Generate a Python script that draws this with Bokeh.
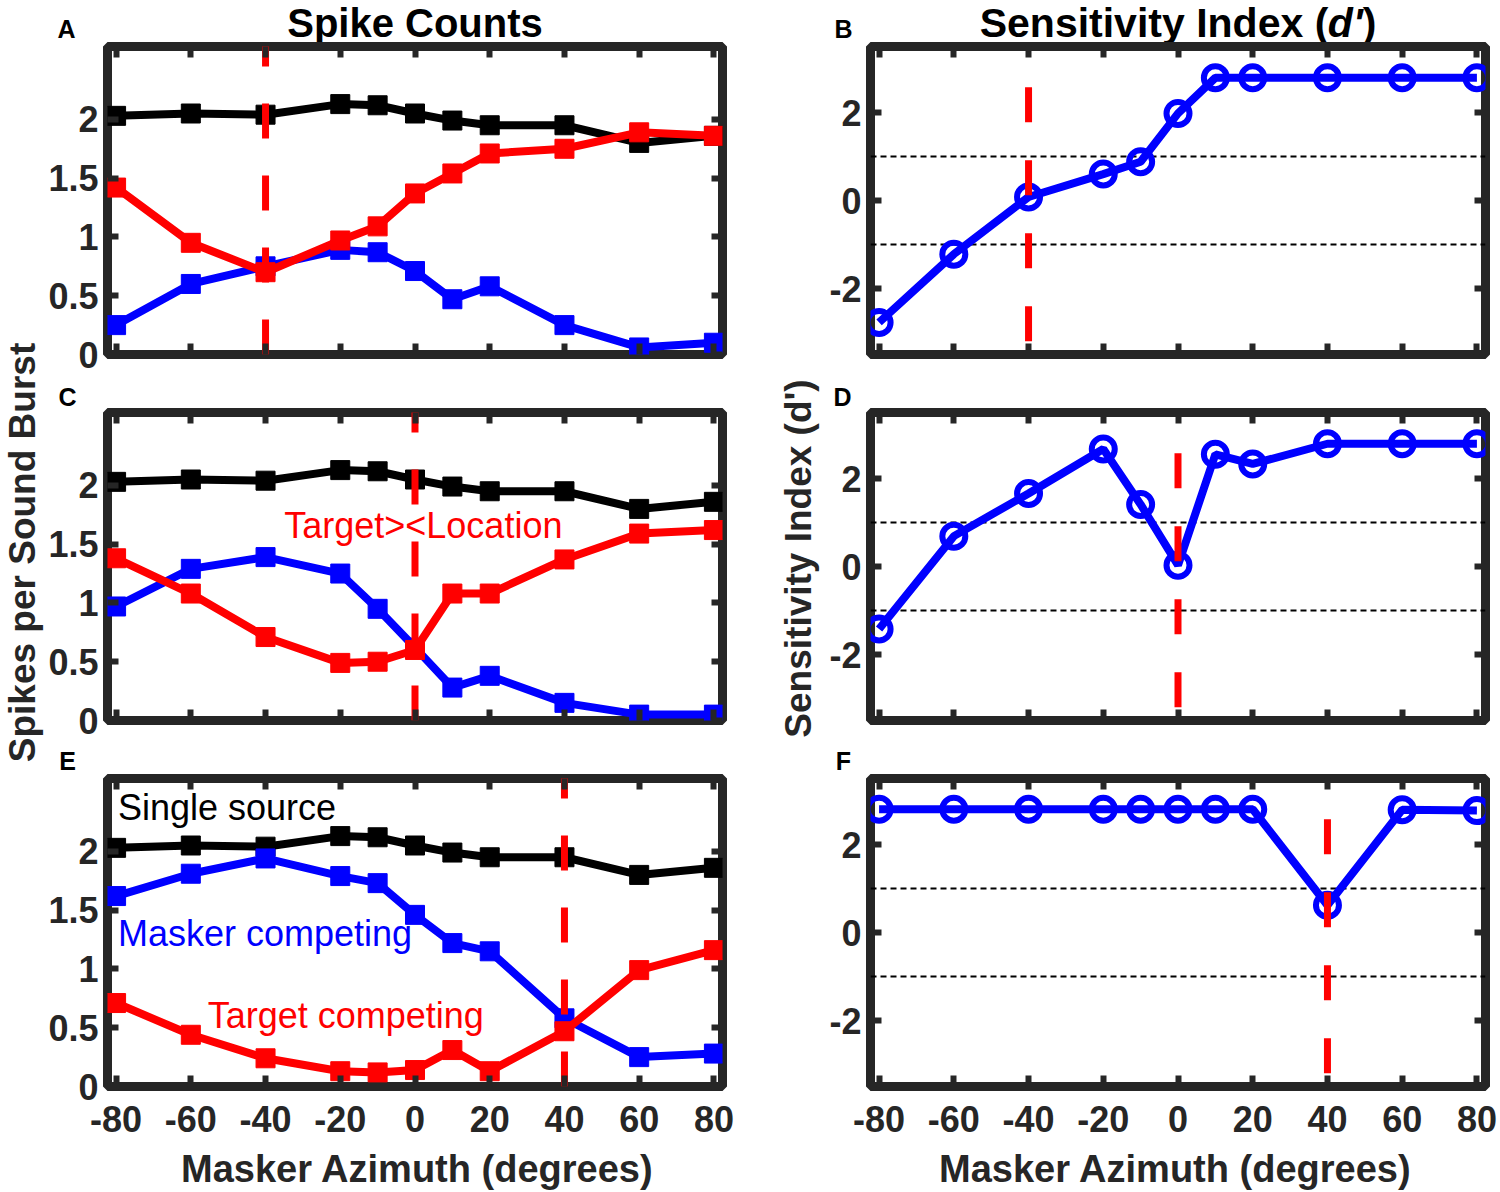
from math import pi
from bokeh.plotting import figure
from bokeh.models import Range1d, LinearAxis, FixedTicker, Label, Span, CustomJSTickFormatter
from bokeh.layouts import row, column
from bokeh.embed import file_html
from bokeh.resources import INLINE

# ---------------- data ----------------
azimuth = [-80, -60, -40, -20, -10, 0, 10, 20, 40, 60, 80]
single_source = [2.03, 2.05, 2.04, 2.13, 2.12, 2.05, 1.99, 1.95, 1.95, 1.80, 1.86]

target_A = [1.42, 0.95, 0.70, 0.97, 1.09, 1.37, 1.54, 1.71, 1.75, 1.89, 1.86]
masker_A = [0.25, 0.60, 0.75, 0.89, 0.87, 0.71, 0.47, 0.58, 0.25, 0.06, 0.10]

target_C = [1.38, 1.08, 0.71, 0.49, 0.50, 0.60, 1.08, 1.08, 1.37, 1.59, 1.62]
masker_C = [0.97, 1.29, 1.39, 1.25, 0.95, 0.62, 0.28, 0.38, 0.15, 0.05, 0.05]

target_E = [0.71, 0.44, 0.24, 0.13, 0.12, 0.14, 0.31, 0.13, 0.47, 0.99, 1.16]
masker_E = [1.62, 1.81, 1.94, 1.79, 1.73, 1.46, 1.22, 1.15, 0.58, 0.25, 0.28]

dprime_B = [-2.77, -1.22, 0.08, 0.60, 0.88, 1.98, 2.79, 2.79, 2.79, 2.79, 2.79]
dprime_D = [-1.42, 0.69, 1.66, 2.67, 1.41, 0.03, 2.55, 2.33, 2.79, 2.79, 2.79]
dprime_F = [2.80, 2.80, 2.80, 2.80, 2.80, 2.80, 2.80, 2.80, 0.62, 2.79, 2.77]

target_location = [-40, 0, 40]       # red dashed line per row
criterion = [-1, 1]                   # dotted d' criteria
x_ticks = [-80, -60, -40, -20, 0, 20, 40, 60, 80]
spike_ticks = [0, 0.5, 1, 1.5, 2]
dprime_ticks = [-2, 0, 2]

# ---------------- style ----------------
FONT = "Liberation Sans"
INK = "#262626"
RED, BLUE, BLACK = "#FF0000", "#0000FF", "#000000"
XLIM = (-82.3, 82.3)
YLIM_SPK = (0.0, 2.62)
YLIM_DP = (-3.5, 3.5)
FW, FH = 615, 308
DASH_SPK = (0.0, 3.0)
DASH_DP = (-3.2, 2.6)
OVERLAP = 9


def make_panel(ylim, yticks, height, mb_left, mb_right, mb_top, mb_bottom, bottom_labels):
    width = mb_left + FW + mb_right
    p = figure(width=width, height=height, x_range=Range1d(*XLIM), y_range=Range1d(*ylim),
               toolbar_location=None, output_backend="svg",
               x_axis_type=None, y_axis_type=None,
               min_border_left=mb_left, min_border_right=mb_right,
               min_border_top=mb_top, min_border_bottom=mb_bottom,
               margin=(-OVERLAP, 0, 0, 0))
    p.outline_line_color = INK
    p.outline_line_width = 9
    p.background_fill_color = "white"
    p.border_fill_color = None
    fmt = CustomJSTickFormatter(code="return tick.toString();")
    blank = CustomJSTickFormatter(code="return '';")
    xb = LinearAxis(ticker=FixedTicker(ticks=x_ticks), formatter=fmt if bottom_labels else blank)
    yl = LinearAxis(ticker=FixedTicker(ticks=yticks), formatter=fmt)
    xt = LinearAxis(ticker=FixedTicker(ticks=x_ticks), formatter=blank)
    yr = LinearAxis(ticker=FixedTicker(ticks=yticks), formatter=blank)
    for ax in (xb, yl, xt, yr):
        ax.axis_line_color = None
        ax.major_tick_in = 11
        ax.major_tick_out = 0
        ax.major_tick_line_width = 6
        ax.major_tick_line_color = INK
        ax.minor_tick_line_color = None
        ax.major_label_text_font = FONT
        ax.major_label_text_font_size = "36px"
        ax.major_label_text_font_style = "bold"
        ax.major_label_text_color = INK
    hidden = [xt, yr] + ([] if bottom_labels else [xb])
    for ax in hidden:
        ax.major_label_text_font_size = "0px"
        ax.major_label_standoff = 0
    if bottom_labels:
        xb.major_label_standoff = 19
    yl.major_label_standoff = 9
    p.add_layout(xb, "below")
    p.add_layout(yl, "left")
    p.add_layout(xt, "above")
    p.add_layout(yr, "right")
    return p


def strip(width, height):
    f = figure(width=width, height=height, x_range=Range1d(0, width), y_range=Range1d(0, height),
               toolbar_location=None, output_backend="svg", x_axis_type=None, y_axis_type=None,
               min_border=0, frame_align=False)
    f.outline_line_color = None
    f.background_fill_color = "white"
    f.border_fill_color = "white"
    return f


def put(f, text, x, mid_from_top, size, style="bold", color=BLACK, align="center", angle=0.0):
    f.add_layout(Label(x=x, y=f.height - mid_from_top, text=text, text_font=FONT,
                       text_font_size=f"{size}px", text_font_style=style, text_color=color,
                       text_align=align, text_baseline="middle", angle=angle, angle_units="rad"))


def spike_panel(p, target, masker, loc):
    p.line(azimuth, single_source, line_color=BLACK, line_width=8)
    p.scatter(azimuth, single_source, marker="square", size=19, color=BLACK)
    p.line(azimuth, masker, line_color=BLUE, line_width=8)
    p.scatter(azimuth, masker, marker="square", size=19, color=BLUE)
    p.line(azimuth, target, line_color=RED, line_width=8)
    p.scatter(azimuth, target, marker="square", size=19, color=RED)
    p.line([loc, loc], list(DASH_SPK), line_color=RED, line_width=7, line_dash="35 37")


def dprime_panel(p, d, loc):
    for c in criterion:
        p.add_layout(Span(location=c, dimension="width", line_color=BLACK, line_width=2,
                          line_dash="6 4", level="underlay"))
    p.line(azimuth, d, line_color=BLUE, line_width=8)
    p.scatter(azimuth, d, marker="circle", size=23, line_color=BLUE, line_width=6, fill_color=None)
    p.line([loc, loc], list(DASH_DP), line_color=RED, line_width=7, line_dash="35 38")


LW, RW = 716, 678          # column widths
# strips: (height) ; panels overlap the strip above by OVERLAP px (transparent border)
# ---------------- left column ----------------
sA = strip(LW, 50)
put(sA, "Spike Counts", 414.5 - 44, 22.4, 40)
put(sA, "A", 22, 28.5, 25)
pA = make_panel(YLIM_SPK, spike_ticks, 339, 63, 38, 5, 26, False)
sC = strip(LW, 36)
put(sC, "C", 23, 16.5, 25)
pC = make_panel(YLIM_SPK, spike_ticks, 339, 63, 38, 5, 26, False)
sE = strip(LW, 35)
put(sE, "E", 23, 14, 25)
pE = make_panel(YLIM_SPK, spike_ticks, 374, 63, 38, 6, 60, True)
sXL = strip(LW, 46 + OVERLAP)
sXL.margin = (-OVERLAP, 0, 0, 0)
sXL.background_fill_color = None
sXL.border_fill_color = None
put(sXL, "Masker Azimuth (degrees)", 373, 22 + OVERLAP, 38, color=INK)

spike_panel(pA, target_A, masker_A, target_location[0])
spike_panel(pC, target_C, masker_C, target_location[1])
spike_panel(pE, target_E, masker_E, target_location[2])

ann = dict(text_font=FONT, text_font_size="36px", text_align="left", text_baseline="middle")
pC.add_layout(Label(x=-35.0, y=1.66, text="Target><Location", text_color=RED, **ann))
pE.add_layout(Label(x=-79.5, y=2.37, text="Single source", text_color=BLACK, **ann))
pE.add_layout(Label(x=-79.5, y=1.30, text="Masker competing", text_color=BLUE, **ann))
pE.add_layout(Label(x=-55.5, y=0.60, text="Target competing", text_color=RED, **ann))

# ---------------- right column ----------------
sB = strip(RW, 50)
fs = 41
w1, w2, w3 = 8.492 * fs, 0.849 * fs, 0.333 * fs
x0 = 355.5 - (w1 + w2 + w3) / 2
put(sB, "Sensitivity Index (", x0, 22.9, fs, align="left")
put(sB, "d'", x0 + w1, 22.9, fs, style="bold italic", align="left")
put(sB, ")", x0 + w1 + w2, 22.9, fs, align="left")
put(sB, "B", 21, 28.5, 25)
pB = make_panel(YLIM_DP, dprime_ticks, 339, 48, 15, 5, 26, False)
sD = strip(RW, 36)
put(sD, "D", 20, 16.5, 25)
pD = make_panel(YLIM_DP, dprime_ticks, 339, 48, 15, 5, 26, False)
sF = strip(RW, 35)
put(sF, "F", 21, 14, 25)
pF = make_panel(YLIM_DP, dprime_ticks, 374, 48, 15, 6, 60, True)
sXR = strip(RW, 46 + OVERLAP)
sXR.margin = (-OVERLAP, 0, 0, 0)
sXR.background_fill_color = None
sXR.border_fill_color = None
put(sXR, "Masker Azimuth (degrees)", 353, 22 + OVERLAP, 38, color=INK)

dprime_panel(pB, dprime_B, target_location[0])
dprime_panel(pD, dprime_D, target_location[1])
dprime_panel(pF, dprime_F, target_location[2])

# ---------------- y-axis label strips ----------------
yl_left = strip(44, 1192)
put(yl_left, "Spikes per Sound Burst", 22, 552, 37, color=INK, angle=pi / 2)
yl_right = strip(62, 1192)
put(yl_right, "Sensitivity Index (d')", 38, 558, 37, color=INK, angle=pi / 2)

layout = row(yl_left,
             column(sA, pA, sC, pC, sE, pE, sXL),
             yl_right,
             column(sB, pB, sD, pD, sF, pF, sXR))

with open("out.html", "w") as fh:
    fh.write(file_html(layout, INLINE))
